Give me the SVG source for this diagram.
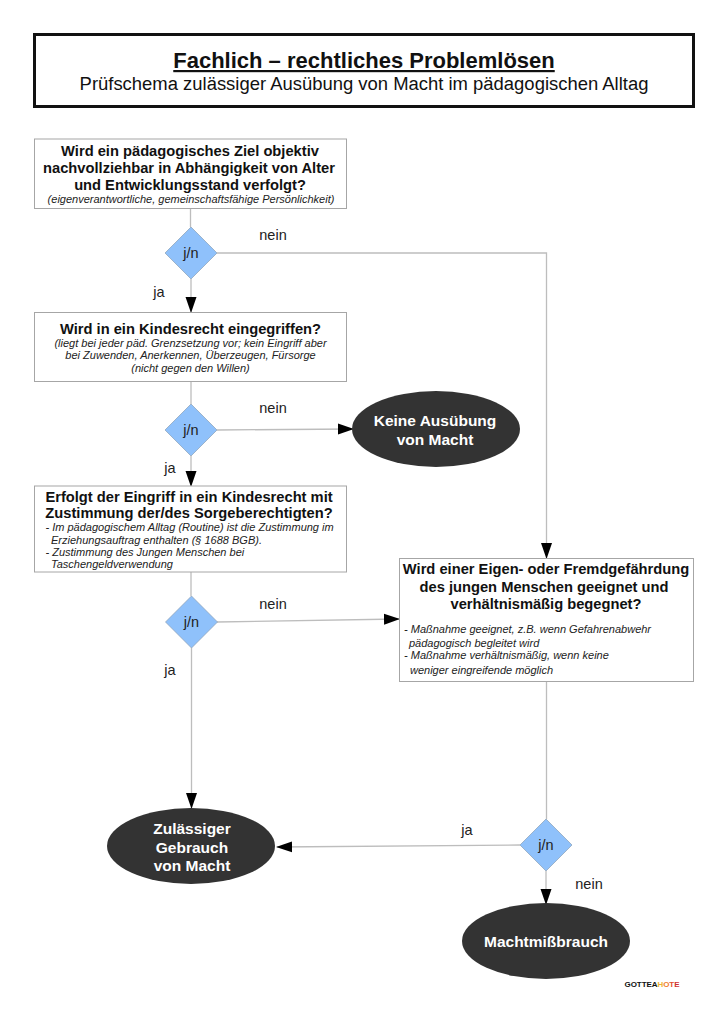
<svg xmlns="http://www.w3.org/2000/svg" width="728" height="1030" viewBox="0 0 728 1030">
<style>
text{font-family:"Liberation Sans",Arial,sans-serif;text-anchor:middle;fill:#111}
.box{fill:#fff;stroke:#a6a6a6;stroke-width:1}
.q{font-weight:bold;font-size:14.7px}
.n{font-style:italic;font-size:11px;fill:#222}
.l{text-anchor:start}
.d{fill:#8fc1fb;stroke:#8a9fb5;stroke-width:.7}
.dt{font-size:14.5px;fill:#222}
.lab{font-size:14.5px;fill:#222}
.e{fill:#333}
.et{font-weight:bold;font-size:15.5px;fill:#fff}
.c{fill:none;stroke:#bdbdbd;stroke-width:1.3}
</style>
<defs><marker id="a" markerUnits="userSpaceOnUse" markerWidth="16" markerHeight="12" refX="15" refY="6" orient="auto"><path d="M0 .5L16 6L0 11.500Z" fill="#000"/></marker></defs>
<rect width="728" height="1030" fill="#fff"/>
<g id="connectors">
<path class="c" d="M190.500 208.500V227"/>
<path class="c" d="M191 279V312" marker-end="url(#a)"/>
<path class="c" d="M217 253H546.500V558" marker-end="url(#a)"/>
<path class="c" d="M191 381.500V404"/>
<path class="c" d="M191 456V486" marker-end="url(#a)"/>
<path class="c" d="M217 430L353 429" marker-end="url(#a)"/>
<path class="c" d="M191 572V596"/>
<path class="c" d="M191.500 648V808" marker-end="url(#a)"/>
<path class="c" d="M217 622L399 619" marker-end="url(#a)"/>
<path class="c" d="M546.500 681V819"/>
<path class="c" d="M520 845L277 847" marker-end="url(#a)"/>
<path class="c" d="M546 871V904" marker-end="url(#a)"/>
</g>
<g id="header">
<rect x="34.500" y="34.500" width="659" height="72" fill="#fff" stroke="#111" stroke-width="3"/>
<text x="364" y="68" font-size="22" font-weight="bold" text-decoration="underline">Fachlich – rechtliches Problemlösen</text>
<text x="364" y="89.500" font-size="18.450">Prüfschema zulässiger Ausübung von Macht im pädagogischen Alltag</text>
</g>
<g id="q1">
<rect class="box" x="34.500" y="139" width="312" height="69.500"/>
<text class="q" x="190" y="156">Wird ein pädagogisches Ziel objektiv</text>
<text class="q" x="189" y="173">nachvollziehbar in Abhängigkeit von Alter</text>
<text class="q" x="190" y="190">und Entwicklungsstand verfolgt?</text>
<text class="n" x="191" y="203">(eigenverantwortliche, gemeinschaftsfähige Persönlichkeit)</text>
</g>
<g id="d1"><path class="d" d="M191 227L217 253L191 279L165 253Z"/><text class="dt" x="191" y="258">j/n</text></g>
<g id="q2">
<rect class="box" x="34.500" y="312.500" width="312" height="69"/>
<text class="q" x="190.500" y="334">Wird in ein Kindesrecht eingegriffen?</text>
<text class="n" x="190.500" y="347">(liegt bei jeder päd. Grenzsetzung vor; kein Eingriff aber</text>
<text class="n" x="190.500" y="359">bei Zuwenden, Anerkennen, Überzeugen, Fürsorge</text>
<text class="n" x="190.500" y="372">(nicht gegen den Willen)</text>
</g>
<g id="d2"><path class="d" d="M191 404L217 430L191 456L165 430Z"/><text class="dt" x="191" y="435">j/n</text></g>
<g id="q3">
<rect class="box" x="34.500" y="486" width="312" height="86"/>
<text class="q" x="189" y="501.500">Erfolgt der Eingriff in ein Kindesrecht mit</text>
<text class="q" x="189" y="518">Zustimmung der/des Sorgeberechtigten?</text>
<text class="n l" x="45.500" y="531">- Im pädagogischem Alltag (Routine) ist die Zustimmung im</text>
<text class="n l" x="51" y="544">Erziehungsauftrag enthalten (§ 1688 BGB).</text>
<text class="n l" x="45.500" y="556">- Zustimmung des Jungen Menschen bei</text>
<text class="n l" x="51" y="568">Taschengeldverwendung</text>
</g>
<g id="d3"><path class="d" d="M191.500 596L217.500 622L191.500 648L165.500 622Z"/><text class="dt" x="191.500" y="627">j/n</text></g>
<g id="q4">
<rect class="box" x="399.500" y="558.500" width="294" height="123"/>
<text class="q" x="546" y="574">Wird einer Eigen- oder Fremdgefährdung</text>
<text class="q" x="544" y="592">des jungen Menschen geeignet und</text>
<text class="q" x="546" y="609">verhältnismäßig begegnet?</text>
<text class="n l" x="404" y="633">- Maßnahme geeignet, z.B. wenn Gefahrenabwehr</text>
<text class="n l" x="409" y="647">pädagogisch begleitet wird</text>
<text class="n l" x="404" y="659">- Maßnahme verhältnismäßig, wenn keine</text>
<text class="n l" x="410" y="674">weniger eingreifende möglich</text>
</g>
<g id="d4"><path class="d" d="M546 819L572 845L546 871L520 845Z"/><text class="dt" x="546" y="850">j/n</text></g>
<g id="e1"><ellipse class="e" cx="436" cy="429" rx="84" ry="38"/><text class="et" x="435" y="426">Keine Ausübung</text><text class="et" x="435" y="445">von Macht</text></g>
<g id="e2"><ellipse class="e" cx="191" cy="846" rx="84" ry="38"/><text class="et" x="192" y="834">Zulässiger</text><text class="et" x="192" y="853">Gebrauch</text><text class="et" x="192" y="871">von Macht</text></g>
<g id="e3"><ellipse class="e" cx="546" cy="941" rx="84" ry="38"/><text class="et" x="546" y="947">Machtmißbrauch</text></g>
<g id="labels">
<text class="lab" x="273" y="240">nein</text>
<text class="lab" x="159" y="297">ja</text>
<text class="lab" x="273" y="413">nein</text>
<text class="lab" x="170" y="473">ja</text>
<text class="lab" x="273" y="609">nein</text>
<text class="lab" x="170" y="675">ja</text>
<text class="lab" x="467" y="835">ja</text>
<text class="lab" x="589" y="889">nein</text>
</g>
<g id="logo">
<text x="652" y="987" font-size="8" font-weight="bold" fill="#444" textLength="55">GOTTEA<tspan fill="#f0b030">H</tspan><tspan fill="#f08030">O</tspan><tspan fill="#e05030">T</tspan><tspan fill="#d03030">E</tspan></text>
</g>
</svg>
